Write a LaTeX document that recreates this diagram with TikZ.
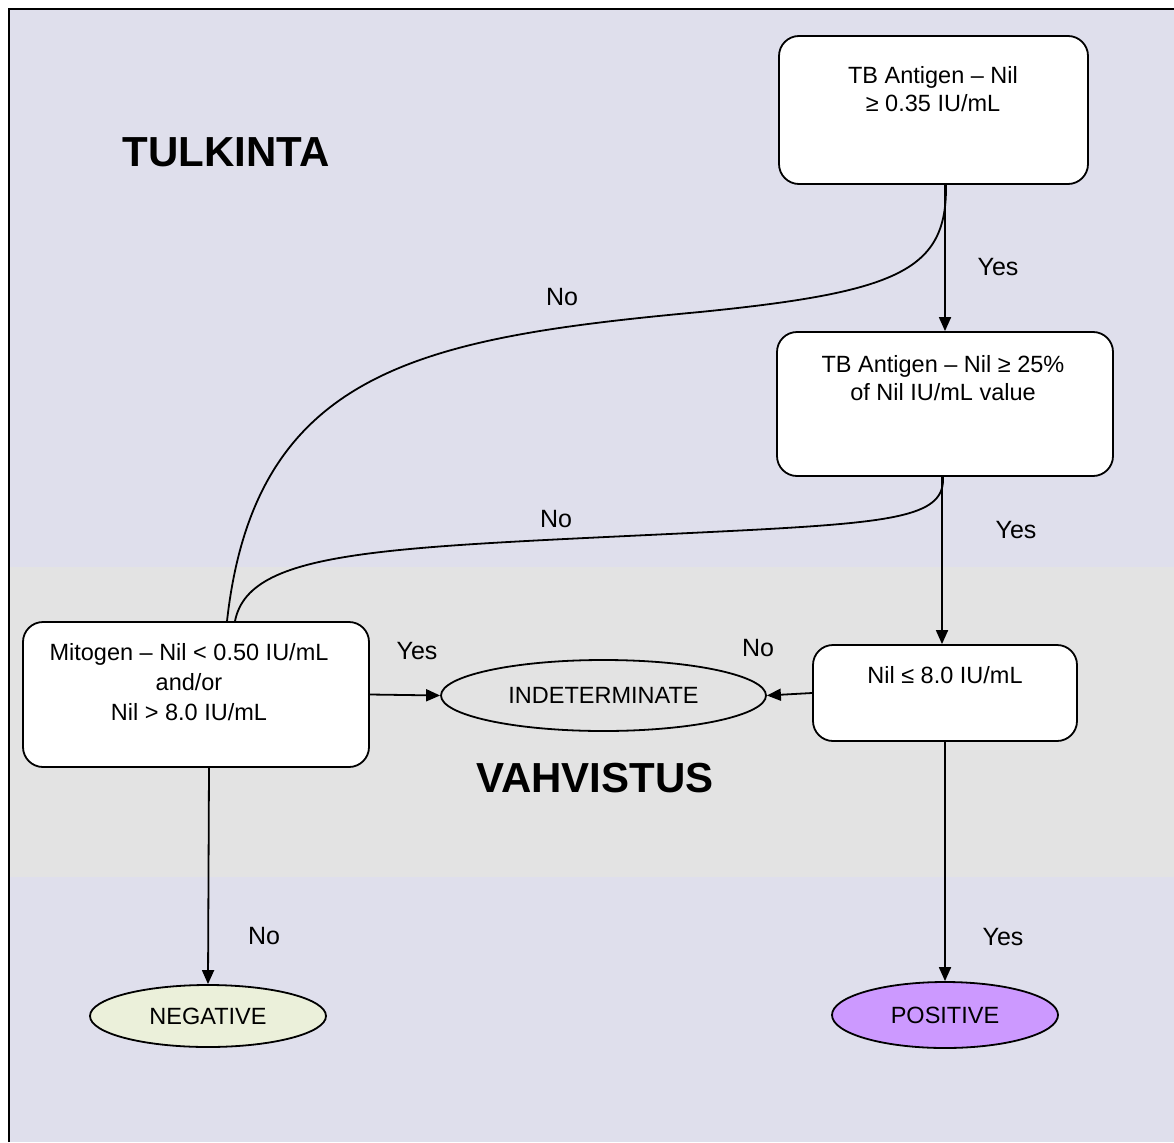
\documentclass[tikz,border=0pt]{standalone}
\usepackage{fontspec}
\setmainfont{Liberation Sans}
\usetikzlibrary{arrows.meta,shapes.geometric}
\definecolor{bglav}{RGB}{223,223,236}
\definecolor{bandgray}{RGB}{227,227,227}
\definecolor{neggreen}{RGB}{235,240,218}
\definecolor{pospurple}{RGB}{204,153,255}
\begin{document}
\begin{tikzpicture}[x=1pt,y=-1pt,
  box/.style={draw=black, line width=1.8pt, fill=white, rounded corners=20pt, inner sep=0pt},
  txt/.style={align=center, font=\fontsize{23.5}{28}\selectfont, inner sep=0pt},
  lbl/.style={font=\fontsize{25}{28}\selectfont, inner sep=0pt},
  oval/.style={draw=black, line width=1.8pt, ellipse, inner sep=0pt, font=\fontsize{23.5}{28}\selectfont},
  arr/.style={line width=1.8pt, -{Triangle[length=14pt,width=12pt]}},
  crv/.style={line width=1.8pt},
  heading/.style={font=\fontsize{42}{50}\selectfont\bfseries, inner sep=0pt}]
\useasboundingbox (0,0) rectangle (1174,1142);
% background
\fill[bglav] (9,9) rectangle (1174,1142);
\fill[bandgray] (10,567) rectangle (1174,877);
\draw[line width=2.8pt] (9,1142) -- (9,9) -- (1174,9);

% headings
\node[heading] (t1) at (226,152) {TULKINTA};
\node[heading] (t2) at (595,778) {VAHVISTUS};

% boxes
\node[box, minimum width=309pt, minimum height=148pt] (A) at (933.5,110) {};
\node[txt] (Atxt) at (933,89) {TB Antigen – Nil\\≥ 0.35 IU/mL};
\node[box, minimum width=336pt, minimum height=144pt] (B) at (945,404) {};
\node[txt] (Btxt) at (943,378) {TB Antigen – Nil ≥ 25\%\\of Nil IU/mL value};
\node[box, minimum width=264pt, minimum height=96pt] (C) at (945,693) {};
\node[txt] (Ctxt) at (945,675) {Nil ≤ 8.0 IU/mL};
\node[box, minimum width=346pt, minimum height=145pt] (M) at (196,694.5) {};
\node[txt, font=\fontsize{23.5}{30}\selectfont] (Mtxt) at (189,682) {Mitogen – Nil < 0.50 IU/mL\\and/or\\Nil > 8.0 IU/mL};

% ovals
\node[oval, fill=bandgray, minimum width=325pt, minimum height=71pt] (I) at (603.5,695.5) {INDETERMINATE};
\node[oval, fill=neggreen, minimum width=236pt, minimum height=62pt] (N) at (208,1016) {NEGATIVE};
\node[oval, fill=pospurple, minimum width=226pt, minimum height=66pt] (P) at (945,1015) {POSITIVE};

% straight connectors
\draw[arr] ([xshift=11.5pt]A.south) -- ([xshift=0pt]B.north);
\draw[arr] ([xshift=-3pt]B.south) -- ([xshift=-3pt]C.north);
\draw[arr] (C.west) -- (I.east);
\draw[arr] (M.east) -- (I.west);
\draw[arr] ([xshift=13pt]M.south) -- (N.north);
\draw[arr] (C.south) -- (P.north);

% curved connectors
\draw[crv] ([xshift=12.5pt]A.south) .. controls (947,270) and (900,292) .. (700,312)
  .. controls (420,338) and (255,370) .. ([xshift=31pt]M.north);
\draw[crv] ([xshift=-2pt]B.south) .. controls (945,515) and (900,522) .. (750,530)
  .. controls (400,548) and (250,545) .. ([xshift=39pt]M.north);

% labels
\node[lbl] (l1) at (998,267) {Yes};
\node[lbl] (l2) at (1016,530) {Yes};
\node[lbl] (l3) at (758,648) {No};
\node[lbl] (l4) at (417,651) {Yes};
\node[lbl] (l5) at (264,936) {No};
\node[lbl] (l6) at (1003,937) {Yes};
\node[lbl] (l7) at (562,297) {No};
\node[lbl] (l8) at (556,519) {No};
\end{tikzpicture}
\end{document}
